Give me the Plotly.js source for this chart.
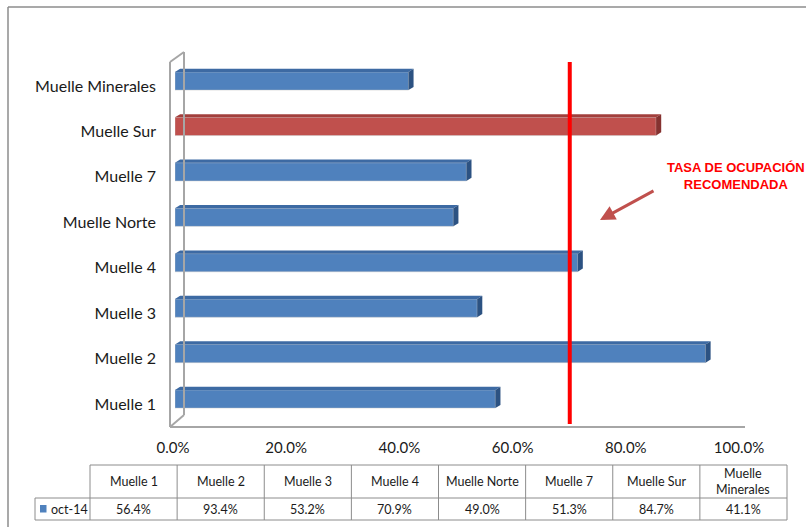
<!DOCTYPE html>
<html>
<head>
<meta charset="utf-8">
<script src="https://cdn.plot.ly/plotly-3.0.1.min.js"></script>
<style>html,body{margin:0;padding:0;background:#fff;}#chart{width:806px;height:527px;}</style>
</head>
<body>
<div id="chart"></div>
<script>
// ---- data ----
const categories = ['Muelle 1','Muelle 2','Muelle 3','Muelle 4','Muelle Norte','Muelle 7','Muelle Sur','Muelle Minerales'];
const tableHeaders = ['Muelle 1','Muelle 2','Muelle 3','Muelle 4','Muelle Norte','Muelle 7','Muelle Sur','Muelle<br>Minerales'];
const octValues = [56.4, 93.4, 53.2, 70.9, 49.0, 51.3, 84.7, 41.1];
const seriesName = 'oct-14';
const highlighted = 'Muelle Sur';
const recommendedRate = 70;
const xTickVals = [0, 20, 40, 60, 80, 100];
const xTickLabels = ['0.0%', '20.0%', '40.0%', '60.0%', '80.0%', '100.0%'];
const noteText = 'TASA DE OCUPACIÓN<br>RECOMENDADA';

// ---- helpers (layout only) ----
const W = 806, H = 527;
const px = x => x / W;
const py = y => 1 - y / H;
const BLUE = '#4f81bd', BLUE_TOP = '#3d6aa3', BLUE_SIDE = '#2c5282';
const RED = '#c0504d', RED_TOP = '#a23f3c', RED_SIDE = '#853230';

const yIdx = categories.map((c, i) => i);
const barW = 0.4;
const depthX = 0.9;   // in axis units (~5px)
const depthY = 0.07;  // in axis units (~3px)

const traces = [];
traces.push({
  type: 'bar', orientation: 'h', name: seriesName,
  y: yIdx, x: octValues, width: barW,
  marker: {color: categories.map(c => c === highlighted ? RED : BLUE),
           line: {color: 'rgba(200,200,200,0.8)', width: 0.6}},
  hoverinfo: 'skip', showlegend: false
});
// 3D faces derived from the data values
octValues.forEach((v, i) => {
  const isH = categories[i] === highlighted;
  const t = i + barW / 2, b = i - barW / 2;
  traces.push({
    type: 'scatter', mode: 'lines', fill: 'toself', hoverinfo: 'skip', showlegend: false,
    x: [0, v, v + depthX, depthX, 0], y: [t, t, t + depthY, t + depthY, t],
    line: {width: 0}, fillcolor: isH ? RED_TOP : BLUE_TOP
  });
  traces.push({
    type: 'scatter', mode: 'lines', fill: 'toself', hoverinfo: 'skip', showlegend: false,
    x: [v, v, v + depthX, v + depthX, v], y: [b, t, t + depthY, b + depthY, b],
    line: {width: 0}, fillcolor: isH ? RED_SIDE : BLUE_SIDE
  });
});
// invisible trace carrying the label axes (labels sit on the 3D front plane)
traces.push({type: 'scatter', mode: 'markers', x: octValues, y: yIdx, xaxis: 'x2', yaxis: 'y2',
  marker: {opacity: 0, size: 1}, hoverinfo: 'skip', showlegend: false});

const shapes = [];
const annotations = [];
const gray = '#a6a6a6';
// outer border
shapes.push({type: 'line', xref: 'paper', yref: 'paper', x0: px(8), x1: px(806), y0: py(7), y1: py(7), line: {color: '#8c8c8c', width: 1.5}});
shapes.push({type: 'line', xref: 'paper', yref: 'paper', x0: px(8), x1: px(8), y0: py(7), y1: py(527), line: {color: '#8c8c8c', width: 1.5}});
// 3D wall frame
const wall = [[170, 62, 170, 427], [170, 62, 184, 52], [184, 52, 184, 415], [170, 427, 184, 415], [170, 427, 745, 427]];
wall.forEach(s => shapes.push({type: 'line', xref: 'paper', yref: 'paper', x0: px(s[0]), y0: py(s[1]), x1: px(s[2]), y1: py(s[3]), line: {color: gray, width: 2}}));
// recommended rate line
shapes.push({type: 'line', xref: 'x', yref: 'paper', x0: recommendedRate - 0.5, x1: recommendedRate - 0.5, y0: py(424), y1: py(62), line: {color: '#ff0000', width: 4}});

// data table
const tTop = 465, tMid = 498, tBot = 520, tLeft = 35, cLeft = 90, cW = 87.125;
const nC = categories.length;
const tc = '#8c8c8c';
const cRight = cLeft + cW * nC;
shapes.push({type: 'line', xref: 'paper', yref: 'paper', x0: px(cLeft), x1: px(cRight), y0: py(tTop), y1: py(tTop), line: {color: tc, width: 1}});
shapes.push({type: 'line', xref: 'paper', yref: 'paper', x0: px(tLeft), x1: px(cRight), y0: py(tMid), y1: py(tMid), line: {color: tc, width: 1}});
shapes.push({type: 'line', xref: 'paper', yref: 'paper', x0: px(tLeft), x1: px(cRight), y0: py(tBot), y1: py(tBot), line: {color: tc, width: 1}});
shapes.push({type: 'line', xref: 'paper', yref: 'paper', x0: px(tLeft), x1: px(tLeft), y0: py(tMid), y1: py(tBot), line: {color: tc, width: 1}});
for (let k = 0; k <= nC; k++) {
  const xx = cLeft + cW * k;
  shapes.push({type: 'line', xref: 'paper', yref: 'paper', x0: px(xx), x1: px(xx), y0: py(tTop), y1: py(tBot), line: {color: tc, width: 1}});
}
// legend key
shapes.push({type: 'rect', xref: 'paper', yref: 'paper', x0: px(40), x1: px(46.5), y0: py(512.5), y1: py(505), fillcolor: BLUE, line: {width: 0}});
const tFont = {family: 'Lato, "Open Sans", sans-serif', size: 12.5, color: '#1a1a1a'};
annotations.push({xref: 'paper', yref: 'paper', x: px(49), y: py((tMid + tBot) / 2), xanchor: 'left', yanchor: 'middle', text: seriesName, showarrow: false, font: tFont});
tableHeaders.forEach((h, k) => {
  annotations.push({xref: 'paper', yref: 'paper', x: px(cLeft + cW * (k + 0.5)), y: py((tTop + tMid) / 2), xanchor: 'center', yanchor: 'middle', text: h, showarrow: false, font: tFont});
});
octValues.forEach((v, k) => {
  annotations.push({xref: 'paper', yref: 'paper', x: px(cLeft + cW * (k + 0.5)), y: py((tMid + tBot) / 2), xanchor: 'center', yanchor: 'middle', text: v.toFixed(1) + '%', showarrow: false, font: tFont});
});

// note + arrow
annotations.push({xref: 'paper', yref: 'paper', x: px(736), y: py(176), xanchor: 'center', yanchor: 'middle', text: noteText, showarrow: false,
  font: {family: '"Liberation Sans", Arial, sans-serif', size: 13, color: '#ff0000', weight: 'bold'}});
annotations.push({xref: 'paper', yref: 'paper', x: px(600), y: py(220), text: '', showarrow: true, ax: 55, ay: -30,
  arrowhead: 2, arrowsize: 1, arrowwidth: 3, arrowcolor: RED, standoff: 0});

const yDomain = [py(421.7), py(58.3)];
const layout = {
  width: W, height: H,
  margin: {l: 0, r: 0, t: 0, b: 0},
  paper_bgcolor: '#ffffff', plot_bgcolor: 'rgba(0,0,0,0)',
  font: {family: 'Lato, "Open Sans", sans-serif', color: '#1a1a1a'},
  showlegend: false,
  xaxis: {
    domain: [px(175), px(743)], range: [0, 100],
    showticklabels: false,
    showgrid: false, zeroline: false, showline: false, ticks: ''
  },
  xaxis2: {
    domain: [px(173), px(739)], range: [0, 100],
    tickmode: 'array', tickvals: xTickVals, ticktext: xTickLabels,
    showgrid: false, zeroline: false, showline: false, ticks: '',
    tickfont: {size: 15, color: '#1a1a1a'},
    anchor: 'free', position: py(427), ticklabelstandoff: 10, side: 'bottom'
  },
  yaxis: {
    domain: yDomain, range: [-0.5, 7.5],
    showticklabels: false,
    showgrid: false, zeroline: false, showline: false, ticks: ''
  },
  yaxis2: {
    domain: yDomain, range: [-0.39, 7.61],
    anchor: 'free', position: px(175), side: 'left',
    tickmode: 'array', tickvals: yIdx, ticktext: categories,
    showgrid: false, zeroline: false, showline: false, ticks: '',
    tickfont: {size: 16, color: '#1a1a1a'},
    ticklabelstandoff: 19
  },
  shapes: shapes,
  annotations: annotations
};

Plotly.newPlot('chart', traces, layout, {staticPlot: true, displayModeBar: false});
</script>
</body>
</html>
